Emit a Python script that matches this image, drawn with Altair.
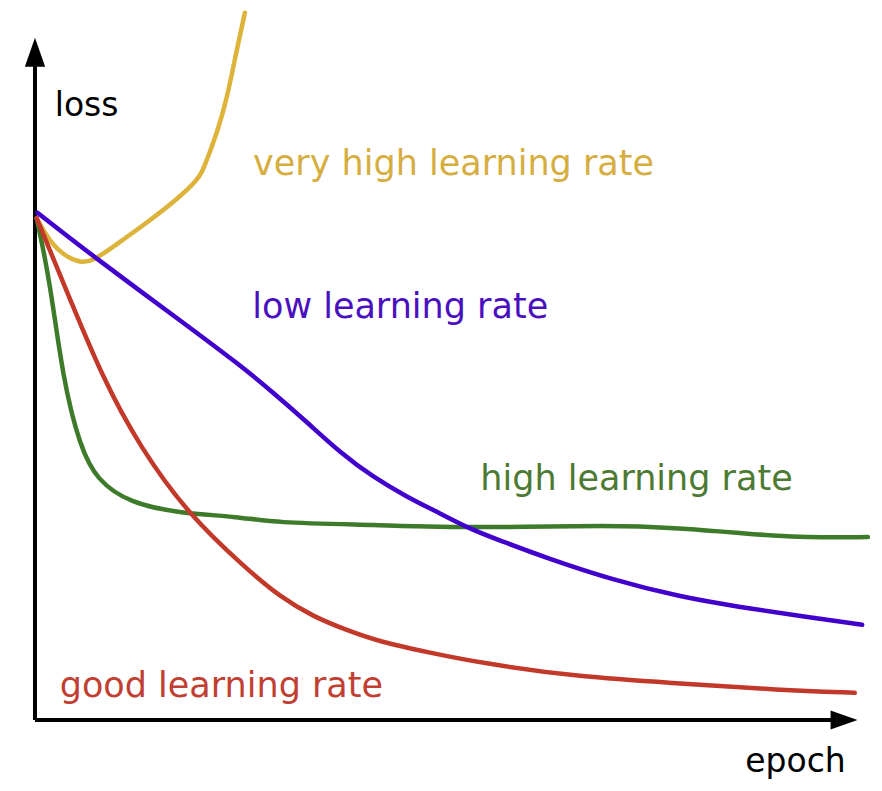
import altair as alt
import pandas as pd

# ---- data (epoch, loss) ----
series_names = ["very high learning rate", "high learning rate", "good learning rate", "low learning rate"]

yellow_epoch = [0.2, 1.8, 3.65, 5.5, 7.05, 9.5, 13.6, 17.6, 19.7, 20.3, 20.9, 22.1, 23.3, 24.5, 25.5]
yellow_loss = [7.38, 7.03, 6.82, 6.72, 6.75, 6.96, 7.31, 7.69, 7.94, 8.06, 8.24, 8.63, 9.12, 9.85, 10.40]

green_epoch = [0.2, 1.8, 3.4, 5.5, 7.5, 11.5, 17.6, 24.9, 28.9, 41.1, 53.2, 70.2, 78.4, 85.7, 92.6, 101.2]
green_loss = [7.38, 6.47, 5.00, 4.01, 3.53, 3.19, 3.04, 2.99, 2.90, 2.87, 2.82, 2.87, 2.82, 2.75, 2.68, 2.69]

red_epoch = [0.2, 3.3, 8.3, 12.8, 18.5, 25.8, 29.8, 33.8, 37.9, 41.9, 48.0, 54.1, 66.2, 78.4, 90.5, 99.6]
red_loss = [7.38, 6.47, 5.00, 4.01, 3.04, 2.21, 1.81, 1.52, 1.32, 1.15, 0.99, 0.84, 0.63, 0.54, 0.44, 0.40]

blue_epoch = [0.3, 7.05, 17.6, 24.9, 28.9, 33.05, 37.1, 41.1, 45.2, 49.2, 53.2, 56.5, 62.2, 70.2, 78.4, 85.7, 93.0, 100.5]
blue_loss = [7.46, 6.82, 5.88, 5.22, 4.82, 4.38, 3.93, 3.57, 3.28, 3.04, 2.79, 2.64, 2.38, 2.06, 1.81, 1.66, 1.53, 1.40]

line_colors = ["#DDB33A", "#3D7A2A", "#C2392A", "#4200CC"]

label_text = ["very high learning rate", "low learning rate", "high learning rate", "good learning rate"]
label_epoch = [26.5, 26.4, 54.1, 3.0]
label_loss = [8.01, 5.91, 3.38, 0.34]
label_colors = ["#D6AE3F", "#4A10C0", "#4D7A32", "#C13F32"]

axis_title_text = ["loss", "epoch"]
axis_title_epoch = [2.4, 86.3]
axis_title_loss = [8.88, -0.76]

X_DOMAIN = [-3.28, 101.94]
Y_DOMAIN = [-0.926, 10.47]

# ---- build tables ----
rows = []
for name, ex, ly in zip(series_names,
                        [yellow_epoch, green_epoch, red_epoch, blue_epoch],
                        [yellow_loss, green_loss, red_loss, blue_loss]):
    for i, (e, l) in enumerate(zip(ex, ly)):
        rows.append({"series": name, "epoch": e, "loss": l, "i": i})
curves = pd.DataFrame(rows)

labels = pd.DataFrame({"text": label_text, "epoch": label_epoch, "loss": label_loss, "c": label_colors})
titles = pd.DataFrame({"text": axis_title_text, "epoch": axis_title_epoch, "loss": axis_title_loss})

xs = alt.Scale(domain=X_DOMAIN, nice=False, zero=False)
ys = alt.Scale(domain=Y_DOMAIN, nice=False, zero=False)

layers = []
for name, col in zip(series_names, line_colors):
    layers.append(
        alt.Chart(curves[curves["series"] == name])
        .mark_line(interpolate="basis", strokeWidth=4.5, color=col, clip=True, strokeCap="round")
        .encode(
            x=alt.X("epoch:Q", scale=xs, axis=None),
            y=alt.Y("loss:Q", scale=ys, axis=None),
            order="i:Q",
        )
    )

# axes drawn as rules with arrowheads
axis_df = pd.DataFrame({"x": [0.0, 0.0], "y": [0.0, 0.0], "x2": [0.0, 98.0], "y2": [9.78, 0.0]})
axes = alt.Chart(axis_df).mark_rule(color="black", strokeWidth=4).encode(
    x=alt.X("x:Q", scale=xs, axis=None),
    y=alt.Y("y:Q", scale=ys, axis=None),
    x2="x2:Q",
    y2="y2:Q",
)
arrow_up = alt.Chart(pd.DataFrame({"x": [0.0], "y": [9.82]})).mark_point(
    shape="M0,-1L-0.7,1L0.7,1Z", size=841, filled=True, color="black", opacity=1
).encode(x=alt.X("x:Q", scale=xs, axis=None), y=alt.Y("y:Q", scale=ys, axis=None))
arrow_right = alt.Chart(pd.DataFrame({"x": [98.3], "y": [0.0]})).mark_point(
    shape="M1,0L-1,-0.7L-1,0.7Z", size=729, filled=True, color="black", opacity=1
).encode(x=alt.X("x:Q", scale=xs, axis=None), y=alt.Y("y:Q", scale=ys, axis=None))

label_layer = alt.Chart(labels).mark_text(
    align="left", baseline="alphabetic", font="DejaVu Sans", fontSize=35
).encode(
    x=alt.X("epoch:Q", scale=xs, axis=None),
    y=alt.Y("loss:Q", scale=ys, axis=None),
    text="text:N",
    color=alt.Color("c:N", scale=None),
)

title_layer = alt.Chart(titles).mark_text(
    align="left", baseline="alphabetic", font="DejaVu Sans", fontSize=33, color="black"
).encode(
    x=alt.X("epoch:Q", scale=xs, axis=None),
    y=alt.Y("loss:Q", scale=ys, axis=None),
    text="text:N",
)

chart = alt.layer(axes, arrow_up, arrow_right, *layers, label_layer, title_layer).properties(
    width=866, height=775, padding=0, autosize=alt.AutoSizeParams(type="none"),
    background="white",
).configure_view(stroke=None)

chart.save("out.html", embed_options={"renderer": "svg", "actions": False})
